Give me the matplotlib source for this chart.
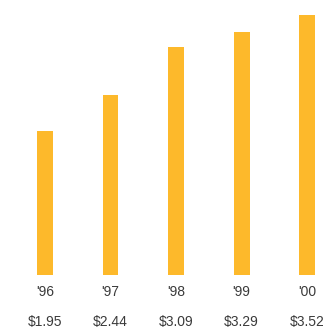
import matplotlib
matplotlib.use("Agg")
import matplotlib.pyplot as plt

# datos
years = ["'96", "'97", "'98", "'99", "'00"]
values = [1.95, 2.44, 3.09, 3.29, 3.52]
value_labels = ["$1.95", "$2.44", "$3.09", "$3.29", "$3.52"]

fig = plt.figure(figsize=(3.23, 3.31), dpi=100)
ax = fig.add_axes([0, 0, 1, 1])

x = range(len(values))
ax.bar(x, values, width=0.244, color='#FDB92B')

# etiquetas debajo de las barras
for i in x:
    ax.text(i, -0.23, years[i], ha='center', va='center', fontsize=10,
            color='#3a3a3a', family='Liberation Sans')
    ax.text(i, -0.637, value_labels[i], ha='center', va='center', fontsize=10,
            color='#3a3a3a', family='Liberation Sans')

ax.set_xlim(-0.687, 4.244)
ax.set_ylim(-0.759, 3.726)
ax.axis('off')

fig.savefig("out.png", dpi=100)
